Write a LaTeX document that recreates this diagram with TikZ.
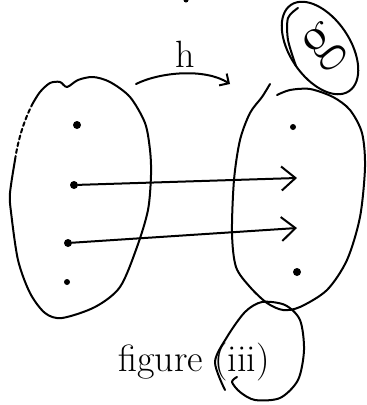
\documentclass[tikz,border=0pt]{standalone}
\usepackage{tikz}
\usetikzlibrary{arrows.meta}
\tikzset{
  pen/.style={line width=2pt,line cap=round,line join=round},
  dotpt/.style={circle,fill,inner sep=0pt,minimum size=8pt},
  ar/.style={pen,-{Straight Barb[length=14pt,width=24pt]}},
  lbl/.style={inner sep=0pt,font=\fontsize{38}{40}\selectfont},
}
\begin{document}
\begin{tikzpicture}[x=1pt,y=-1pt]
  \useasboundingbox (0,0) rectangle (367,405);
  % domain (left set)
  \draw[pen] plot[smooth] coordinates {(15,160) (10,193) (11,212) (18,260) (30,293) (45,313)
    (62,318) (95,307) (120,287) (137,247) (148,210) (151,175) (150,150) (145,123)
    (130,97) (110,82) (93,77) (78,80) (67,87) (60,82) (50,83) (40,92) (33,103)};
  \draw[pen,dash pattern=on 4pt off 3pt] (33,103) .. controls (24,120) and (18,140) .. (15,160);
  % codomain (right set)
  \draw[pen] plot[smooth] coordinates {(270,84) (262,97) (250,113) (240,140) (234,180)
    (232,233) (236,267) (250,287) (267,303) (283,310) (300,307) (327,290) (347,260)
    (360,217) (365,167) (362,133) (350,110) (333,97) (310,89) (290,90) (277,95)};
  % points
  \node[dotpt] (l1) at (77,125) {};
  \node[dotpt] (l2) at (74,185) {};
  \node[dotpt] (l3) at (68,243) {};
  \node[dotpt,minimum size=6pt] (l4) at (67,282) {};
  \node[dotpt,minimum size=6pt] (r1) at (293,127) {};
  \coordinate (r2) at (297,178);
  \coordinate (r3) at (297,228);
  \node[dotpt] (r4) at (297,272) {};
  \foreach \a/\b in {l2/r2,l3/r3} \draw[ar] (\a)--(\b);
  % map name
  \coordinate (hs) at (136,84);
  \coordinate (he) at (230,84);
  \draw[pen,-{Straight Barb[length=7pt,width=14pt]}] (hs) .. controls (160,72) and (205,68) .. (he);
  \node[lbl] (h) at (185,54) {h};
  % circled g
  \draw[pen,rotate around={-56:(320,48)}] (320,48) ellipse [x radius=52, y radius=30];
  \draw[pen] plot[smooth] coordinates {(298,8) (288,18) (288,40) (296,66)};
  \node[lbl,rotate=40,font=\fontsize{70}{72}\selectfont] (g) at (324,48) {g};
  \fill (186,0) circle (2.5);
  % caption
  \node[lbl] (cap) at (194,362) {figure (iii)};
  \draw[pen] plot[smooth] coordinates {(225,390) (215,362) (227,337) (245,312) (262,302)
    (285,305) (300,320) (304,350) (298,380) (280,398) (255,400) (240,392) (232,382) (237,377)};
\end{tikzpicture}
\end{document}
